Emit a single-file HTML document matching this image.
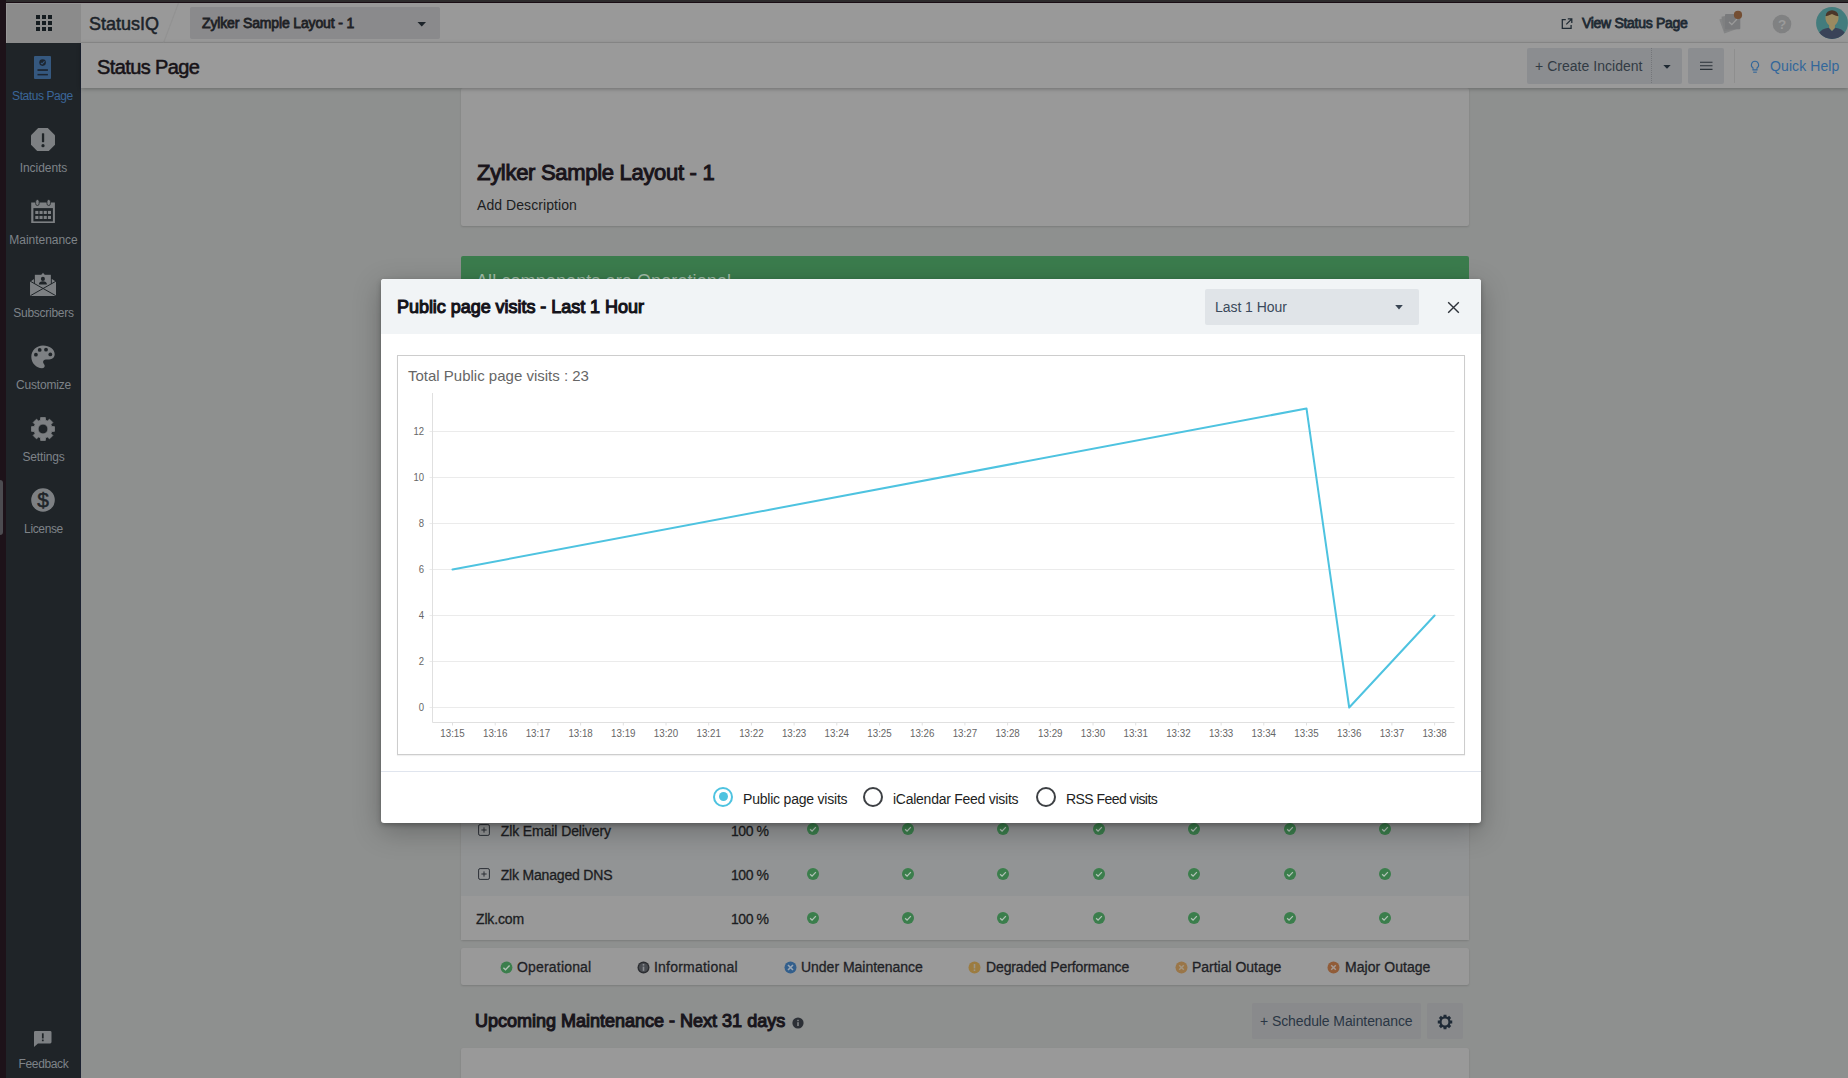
<!DOCTYPE html>
<html lang="en">
<head>
<meta charset="utf-8">
<title>StatusIQ - Status Page</title>
<style>
*{box-sizing:border-box;margin:0;padding:0}
html,body{width:1848px;height:1078px;overflow:hidden}
body{position:relative;background:#8e908f;font-family:"Liberation Sans",sans-serif;color:#1b1b1f;font-size:14px}
.abs{position:absolute}
.t{position:absolute;white-space:nowrap;line-height:20px;height:20px}
#edgeL{left:0;top:0;width:6px;height:1078px;background:#1d1219}
#edgeT1{left:6px;top:0;width:1842px;height:2px;background:#2d2b2c}
#edgeT2{left:6px;top:2px;width:1842px;height:1px;background:#190d14}
#handle{left:0;top:480px;width:3px;height:55px;background:#4c4b50;border-radius:0 3px 3px 0}
#top{left:6px;top:3px;width:1842px;height:40px;background:#999999;border-bottom:1px solid #8e8e8e}
#apps{left:6px;top:3px;width:75px;height:40px;background:#8b8b8b;border-top:1px solid #979797;border-left:1px solid #979797}
#apps i{position:absolute;width:4px;height:4px;background:#151c20}
#pagesel{left:190px;top:7px;width:250px;height:32px;background:#8a8a8c;border-radius:2px}
#side{left:6px;top:43px;width:75px;height:1035px;background:#1f2428;border-right:1px solid #1b2130}
.nav{position:absolute;left:0;width:75px;text-align:center;font-size:12px;color:#7e8388;line-height:20px;height:20px}
.nav.on{color:#3b6699}
.ico{position:absolute}
#sub{left:81px;top:43px;width:1767px;height:45px;background:#9a9a9a;box-shadow:0 1px 4px rgba(0,0,0,.28)}
.btn{position:absolute;background:#8b8d90;border-radius:2px}
.btn2{position:absolute;background:#898a8c;border-radius:2px}
.card{position:absolute;left:461px;width:1008px;background:#999999;border-radius:2px;box-shadow:0 1px 2px rgba(0,0,0,.14)}
.row{position:absolute;left:461px;width:1008px;height:44px}
#modal{left:381px;top:279px;width:1100px;height:544px;background:#fff;border-radius:3px;box-shadow:0 2px 5px rgba(0,0,0,.26),0 8px 28px rgba(0,0,0,.27);overflow:hidden}
#mhead{left:0;top:0;width:1100px;height:55px;background:#f1f4f6}
#msel{left:824px;top:10px;width:214px;height:36px;background:#e0e4e8;border-radius:2px}
#chart{left:16px;top:76px;width:1068px;height:400px;border:1px solid #cdcdcd;background:#fff;box-shadow:0 1px 1px rgba(0,0,0,.06)}
#mfoot{left:0;top:492px;width:1100px;height:1px;background:#e0e5ee}
.radio{position:absolute;width:20px;height:20px;border-radius:50%;border:2px solid #3d4044;background:#fff}
.radio.on{border-color:#4ec3e0}
.radio.on:after{content:"";position:absolute;left:3.5px;top:3.5px;width:9px;height:9px;border-radius:50%;background:#4ec3e0}
.lg{font-size:14px;color:#1f2226;-webkit-text-stroke:0.3px #1f2226}
.tr{font-size:14px;color:#1c1d21;-webkit-text-stroke:0.3px #1c1d21}
</style>
</head>
<body>
<!-- content cards -->
<div class="card" style="top:88px;height:138px"></div>
<div class="t" style="left:477px;top:161px;font-size:22px;color:#19141a;-webkit-text-stroke:1.0px #19141a;letter-spacing:-0.3px;line-height:24px;height:24px">Zylker Sample Layout - 1</div>
<div class="t" style="left:477px;top:195px;font-size:14px;color:#1c1d21;letter-spacing:0.07px">Add Description</div>
<div class="abs" style="left:461px;top:256px;width:1008px;height:60px;background:#3b7c4d;border-radius:2px"></div>
<div class="t" style="left:476px;top:269px;font-size:18px;color:#a3bda9;letter-spacing:0.1px;line-height:24px;height:24px">All components are Operational</div>

<!-- table rows -->
<div class="card" style="top:700px;height:240px"></div>
<div class="row" style="top:808px;background:#929495"></div>
<div class="row" style="top:852px;background:#929495"></div>
<div class="row" style="top:896px;background:#999999"></div>
<svg class="ico" style="left:477.500px;top:824px" width="12" height="12" viewBox="0 0 12 12"><rect x="0.600" y="0.600" width="10.800" height="10.800" rx="1.500" stroke="#2a2e35" stroke-width="1" fill="none"/><path d="M6 3.400v5.200M3.400 6h5.200" stroke="#2a2e35" stroke-width="1"/></svg>
<svg class="ico" style="left:477.500px;top:868px" width="12" height="12" viewBox="0 0 12 12"><rect x="0.600" y="0.600" width="10.800" height="10.800" rx="1.500" stroke="#2a2e35" stroke-width="1" fill="none"/><path d="M6 3.400v5.200M3.400 6h5.200" stroke="#2a2e35" stroke-width="1"/></svg>
<div class="t tr" style="left:500.700px;top:821px;letter-spacing:-0.1px">Zlk Email Delivery</div>
<div class="t tr" style="left:500.700px;top:865px;letter-spacing:-0.18px">Zlk Managed DNS</div>
<div class="t tr" style="left:476px;top:909px;letter-spacing:-0.15px">Zlk.com</div>
<div class="t tr" style="left:731px;top:821px;letter-spacing:-0.45px">100 %</div>
<div class="t tr" style="left:731px;top:865px;letter-spacing:-0.45px">100 %</div>
<div class="t tr" style="left:731px;top:909px;letter-spacing:-0.45px">100 %</div>
<svg class="ico" style="left:806.5px;top:823.1px" width="12" height="12" viewBox="0 0 13 13"><circle cx="6.500" cy="6.500" r="6.500" fill="#3b7e4c"/><path d="M3.400 6.700l2.100 2.100 4.100-4.300" stroke="#b2c2b7" stroke-width="1.400" fill="none"/></svg><svg class="ico" style="left:901.9px;top:823.1px" width="12" height="12" viewBox="0 0 13 13"><circle cx="6.500" cy="6.500" r="6.500" fill="#3b7e4c"/><path d="M3.400 6.700l2.100 2.100 4.100-4.300" stroke="#b2c2b7" stroke-width="1.400" fill="none"/></svg><svg class="ico" style="left:997.3px;top:823.1px" width="12" height="12" viewBox="0 0 13 13"><circle cx="6.500" cy="6.500" r="6.500" fill="#3b7e4c"/><path d="M3.400 6.700l2.100 2.100 4.100-4.300" stroke="#b2c2b7" stroke-width="1.400" fill="none"/></svg><svg class="ico" style="left:1092.7px;top:823.1px" width="12" height="12" viewBox="0 0 13 13"><circle cx="6.500" cy="6.500" r="6.500" fill="#3b7e4c"/><path d="M3.400 6.700l2.100 2.100 4.100-4.300" stroke="#b2c2b7" stroke-width="1.400" fill="none"/></svg><svg class="ico" style="left:1188.1px;top:823.1px" width="12" height="12" viewBox="0 0 13 13"><circle cx="6.500" cy="6.500" r="6.500" fill="#3b7e4c"/><path d="M3.400 6.700l2.100 2.100 4.100-4.300" stroke="#b2c2b7" stroke-width="1.400" fill="none"/></svg><svg class="ico" style="left:1283.5px;top:823.1px" width="12" height="12" viewBox="0 0 13 13"><circle cx="6.500" cy="6.500" r="6.500" fill="#3b7e4c"/><path d="M3.400 6.700l2.100 2.100 4.100-4.300" stroke="#b2c2b7" stroke-width="1.400" fill="none"/></svg><svg class="ico" style="left:1378.9px;top:823.1px" width="12" height="12" viewBox="0 0 13 13"><circle cx="6.500" cy="6.500" r="6.500" fill="#3b7e4c"/><path d="M3.400 6.700l2.100 2.100 4.100-4.300" stroke="#b2c2b7" stroke-width="1.400" fill="none"/></svg><svg class="ico" style="left:806.5px;top:867.8px" width="12" height="12" viewBox="0 0 13 13"><circle cx="6.500" cy="6.500" r="6.500" fill="#3b7e4c"/><path d="M3.400 6.700l2.100 2.100 4.100-4.300" stroke="#b2c2b7" stroke-width="1.400" fill="none"/></svg><svg class="ico" style="left:901.9px;top:867.8px" width="12" height="12" viewBox="0 0 13 13"><circle cx="6.500" cy="6.500" r="6.500" fill="#3b7e4c"/><path d="M3.400 6.700l2.100 2.100 4.100-4.300" stroke="#b2c2b7" stroke-width="1.400" fill="none"/></svg><svg class="ico" style="left:997.3px;top:867.8px" width="12" height="12" viewBox="0 0 13 13"><circle cx="6.500" cy="6.500" r="6.500" fill="#3b7e4c"/><path d="M3.400 6.700l2.100 2.100 4.100-4.300" stroke="#b2c2b7" stroke-width="1.400" fill="none"/></svg><svg class="ico" style="left:1092.7px;top:867.8px" width="12" height="12" viewBox="0 0 13 13"><circle cx="6.500" cy="6.500" r="6.500" fill="#3b7e4c"/><path d="M3.400 6.700l2.100 2.100 4.100-4.300" stroke="#b2c2b7" stroke-width="1.400" fill="none"/></svg><svg class="ico" style="left:1188.1px;top:867.8px" width="12" height="12" viewBox="0 0 13 13"><circle cx="6.500" cy="6.500" r="6.500" fill="#3b7e4c"/><path d="M3.400 6.700l2.100 2.100 4.100-4.300" stroke="#b2c2b7" stroke-width="1.400" fill="none"/></svg><svg class="ico" style="left:1283.5px;top:867.8px" width="12" height="12" viewBox="0 0 13 13"><circle cx="6.500" cy="6.500" r="6.500" fill="#3b7e4c"/><path d="M3.400 6.700l2.100 2.100 4.100-4.300" stroke="#b2c2b7" stroke-width="1.400" fill="none"/></svg><svg class="ico" style="left:1378.9px;top:867.8px" width="12" height="12" viewBox="0 0 13 13"><circle cx="6.500" cy="6.500" r="6.500" fill="#3b7e4c"/><path d="M3.400 6.700l2.100 2.100 4.100-4.300" stroke="#b2c2b7" stroke-width="1.400" fill="none"/></svg><svg class="ico" style="left:806.5px;top:911.6px" width="12" height="12" viewBox="0 0 13 13"><circle cx="6.500" cy="6.500" r="6.500" fill="#3b7e4c"/><path d="M3.400 6.700l2.100 2.100 4.100-4.300" stroke="#b2c2b7" stroke-width="1.400" fill="none"/></svg><svg class="ico" style="left:901.9px;top:911.6px" width="12" height="12" viewBox="0 0 13 13"><circle cx="6.500" cy="6.500" r="6.500" fill="#3b7e4c"/><path d="M3.400 6.700l2.100 2.100 4.100-4.300" stroke="#b2c2b7" stroke-width="1.400" fill="none"/></svg><svg class="ico" style="left:997.3px;top:911.6px" width="12" height="12" viewBox="0 0 13 13"><circle cx="6.500" cy="6.500" r="6.500" fill="#3b7e4c"/><path d="M3.400 6.700l2.100 2.100 4.100-4.300" stroke="#b2c2b7" stroke-width="1.400" fill="none"/></svg><svg class="ico" style="left:1092.7px;top:911.6px" width="12" height="12" viewBox="0 0 13 13"><circle cx="6.500" cy="6.500" r="6.500" fill="#3b7e4c"/><path d="M3.400 6.700l2.100 2.100 4.100-4.300" stroke="#b2c2b7" stroke-width="1.400" fill="none"/></svg><svg class="ico" style="left:1188.1px;top:911.6px" width="12" height="12" viewBox="0 0 13 13"><circle cx="6.500" cy="6.500" r="6.500" fill="#3b7e4c"/><path d="M3.400 6.700l2.100 2.100 4.100-4.300" stroke="#b2c2b7" stroke-width="1.400" fill="none"/></svg><svg class="ico" style="left:1283.5px;top:911.6px" width="12" height="12" viewBox="0 0 13 13"><circle cx="6.500" cy="6.500" r="6.500" fill="#3b7e4c"/><path d="M3.400 6.700l2.100 2.100 4.100-4.300" stroke="#b2c2b7" stroke-width="1.400" fill="none"/></svg><svg class="ico" style="left:1378.9px;top:911.6px" width="12" height="12" viewBox="0 0 13 13"><circle cx="6.500" cy="6.500" r="6.500" fill="#3b7e4c"/><path d="M3.400 6.700l2.100 2.100 4.100-4.300" stroke="#b2c2b7" stroke-width="1.400" fill="none"/></svg>

<!-- legend -->
<div class="card" style="top:948px;height:37px"></div>
<svg class="ico" style="left:499.5px;top:960.6px" width="13" height="13" viewBox="0 0 13 13"><circle cx="6.500" cy="6.500" r="5.900" fill="#3b7e4c"/><path d="M3.400 6.700l2.100 2.100 4.100-4.300" stroke="#b2c2b7" stroke-width="1.400" fill="none"/></svg>
<div class="t lg" style="left:517px;top:957px;letter-spacing:0.18px">Operational</div>
<svg class="ico" style="left:636.7px;top:960.6px" width="13" height="13" viewBox="0 0 13 13"><circle cx="6.500" cy="6.500" r="6" fill="#2b2d31"/><circle cx="6.500" cy="6.500" r="4.600" fill="#494c51"/><rect x="5.700" y="5.600" width="1.600" height="4.200" fill="#8a8d92"/><rect x="5.700" y="3" width="1.600" height="1.600" fill="#8a8d92"/></svg>
<div class="t lg" style="left:654px;top:957px;letter-spacing:0.22px">Informational</div>
<svg class="ico" style="left:783.6px;top:960.6px" width="13" height="13" viewBox="0 0 13 13"><circle cx="6.500" cy="6.500" r="6" fill="#335f8c"/><path d="M4 4l5 5M9 4l-5 5" stroke="#9aa6b4" stroke-width="1.600"/></svg>
<div class="t lg" style="left:801px;top:957px;letter-spacing:-0.02px">Under Maintenance</div>
<svg class="ico" style="left:968px;top:960.6px" width="13" height="13" viewBox="0 0 13 13"><circle cx="6.500" cy="6.500" r="6" fill="#9c7c40"/><rect x="5.700" y="3" width="1.600" height="4.400" fill="#9c9688"/><rect x="5.700" y="8.400" width="1.600" height="1.600" fill="#9c9688"/></svg>
<div class="t lg" style="left:986px;top:957px;letter-spacing:-0.12px">Degraded Performance</div>
<svg class="ico" style="left:1174.6px;top:960.6px" width="13" height="13" viewBox="0 0 13 13"><circle cx="6.500" cy="6.500" r="6" fill="#9a7648"/><path d="M4.200 4.200l4.600 4.600M8.800 4.200l-4.600 4.600" stroke="#a39682" stroke-width="1.500"/></svg>
<div class="t lg" style="left:1192px;top:957px;letter-spacing:-0.02px">Partial Outage</div>
<svg class="ico" style="left:1327px;top:960.6px" width="13" height="13" viewBox="0 0 13 13"><circle cx="6.500" cy="6.500" r="6" fill="#915c38"/><path d="M4.200 4.200l4.600 4.600M8.800 4.200l-4.600 4.600" stroke="#a59a93" stroke-width="1.500"/></svg>
<div class="t lg" style="left:1345px;top:957px;letter-spacing:0.05px">Major Outage</div>

<!-- upcoming maintenance -->
<div class="t" style="left:475px;top:1010px;font-size:18px;color:#19161c;-webkit-text-stroke:1.1px #19161c;letter-spacing:0.0px;line-height:22px;height:22px">Upcoming Maintenance - Next 31 days</div>
<svg class="ico" style="left:791.800px;top:1016.800px" width="12" height="12" viewBox="0 0 12 12"><circle cx="6" cy="6" r="5.600" fill="#2c3036"/><rect x="5.300" y="5.200" width="1.400" height="3.800" fill="#8e9092"/><rect x="5.300" y="2.800" width="1.400" height="1.400" fill="#8e9092"/></svg>
<div class="btn2" style="left:1252px;top:1003px;width:169px;height:36px"></div>
<div class="t" style="left:1260px;top:1011px;font-size:14px;color:#2a3644;letter-spacing:-0.09px">+ Schedule Maintenance</div>
<div class="btn2" style="left:1427px;top:1003px;width:36px;height:36px"></div>
<svg class="ico" style="left:1436.5px;top:1013.7px" width="16" height="16" viewBox="0 0 18 18" preserveAspectRatio="none"><path d="M7.24 2.95 L7.38 0.86 L10.62 0.86 L10.76 2.95 L12.04 3.48 L13.61 2.10 L15.90 4.39 L14.52 5.96 L15.05 7.24 L17.14 7.38 L17.14 10.62 L15.05 10.76 L14.52 12.04 L15.90 13.61 L13.61 15.90 L12.04 14.52 L10.76 15.05 L10.62 17.14 L7.38 17.14 L7.24 15.05 L5.96 14.52 L4.39 15.90 L2.10 13.61 L3.48 12.04 L2.95 10.76 L0.86 10.62 L0.86 7.38 L2.95 7.24 L3.48 5.96 L2.10 4.39 L4.39 2.10 L5.96 3.48Z M5.20 9.00a3.8 3.8 0 1 0 7.6 0a3.8 3.8 0 1 0 -7.6 0Z" fill="#1f2a36" fill-rule="evenodd"/></svg>
<div class="card" style="top:1048px;height:40px"></div>

<!-- top bar -->
<div class="abs" id="top"></div>
<div class="abs" id="apps"><i style="left:29px;top:11px"></i><i style="left:35px;top:11px"></i><i style="left:41px;top:11px"></i><i style="left:29px;top:17px"></i><i style="left:35px;top:17px"></i><i style="left:41px;top:17px"></i><i style="left:29px;top:23px"></i><i style="left:35px;top:23px"></i><i style="left:41px;top:23px"></i></div>
<div class="t" style="left:89px;top:13.500px;font-size:18px;color:#1c2329;letter-spacing:0;-webkit-text-stroke:0.5px #1c2329">StatusIQ</div>
<svg class="ico" style="left:158.500px;top:3px" width="22" height="40" viewBox="0 0 22 40"><path d="M19.500 0L4.500 40" stroke="#929292" stroke-width="1.200" fill="none"/></svg>
<div class="abs" id="pagesel"></div>
<div class="t" style="left:202px;top:13px;font-size:14px;color:#1f2226;-webkit-text-stroke:0.8px #1f2226;letter-spacing:-0.15px">Zylker Sample Layout - 1</div>
<svg class="ico" style="left:417px;top:21.700px" width="10" height="5" viewBox="0 0 10 5"><path d="M0.500 0h8.500L4.750 4.600z" fill="#1c2329"/></svg>

<svg class="ico" style="left:1561px;top:18px" width="12" height="12" viewBox="0 0 12 12"><path d="M4.800 1.600H1.300V10.400H10.100V7" stroke="#1f2a33" stroke-width="1.250" fill="none"/><path d="M6.800 0.900h4v4M10.600 1.100L5.300 6.400" stroke="#1f2a33" stroke-width="1.250" fill="none"/></svg>
<div class="t" style="left:1582px;top:13px;font-size:14px;color:#1f2a33;-webkit-text-stroke:0.8px #1f2a33;letter-spacing:-0.3px">View Status Page</div>
<!-- notification -->
<svg class="ico" style="left:1716px;top:9px" width="30" height="28" viewBox="0 0 30 28">
 <path d="M3.300 10.500l12.500-4.500 5 14-12.500 4.500z" fill="#848586"/>
 <path d="M5.500 7.800l14-2.800 2.800 14.500-14 2.800z" fill="#7f8081"/>
 <rect x="9" y="5" width="15.300" height="15.300" rx="1" fill="#797a7c"/>
 <path d="M13 13l2.800 2.600 5.200-5.600" stroke="#9a9a9a" stroke-width="1.300" fill="none"/>
 <circle cx="22" cy="5.900" r="4.100" fill="#744e33"/>
</svg>
<!-- help -->
<svg class="ico" style="left:1772px;top:14px" width="20" height="20" viewBox="0 0 20 20"><circle cx="10" cy="10" r="9.300" fill="#808182"/><text x="10" y="14.800" text-anchor="middle" font-family="Liberation Sans,sans-serif" font-weight="700" font-size="13.500" fill="#9a9a9a">?</text></svg>
<!-- avatar -->
<svg class="ico" style="left:1816px;top:7px" width="32" height="32" viewBox="0 0 32 32">
 <defs><clipPath id="av"><circle cx="16" cy="16" r="15.900"/></clipPath></defs>
 <circle cx="16" cy="16" r="15.900" fill="#437c7d"/>
 <g clip-path="url(#av)">
  <path d="M3 26c1.500-2.800 5-4.600 9.600-5.300L16 24.100l3.400-3.400c4.600 0.700 8.100 2.500 9.600 5.300v6H3z" fill="#3a4358"/>
  <ellipse cx="16" cy="8.600" rx="6.200" ry="5.400" fill="#4b3629"/>
  <path d="M9.400 9.300c2-0.600 4-1.200 6.600-2.400 2 1.200 4.600 2 6.600 2.400 0.300 4.200-1.500 7.400-3.700 9v2.500L16 24.100l-2.900-3.300v-2.500c-2.200-1.600-4-4.800-3.700-9z" fill="#9a8a60"/>
 </g>
</svg>

<!-- sidebar -->
<div class="abs" id="side">
<div class="nav on" style="left:-1px;top:42.5px;letter-spacing:-0.42px">Status Page</div>
<svg class="ico" style="left:28px;top:13px" width="17" height="23" viewBox="0 0 17 23" preserveAspectRatio="none"><rect width="17" height="23" rx="1" fill="#35587f"/><circle cx="8.6" cy="6.6" r="3.3" fill="#1c2530"/><path d="M6.9 6.8l1.2 1.2 2.4-2.7" stroke="#35587f" stroke-width="1.1" fill="none"/><rect x="3.5" y="13.2" width="10.4" height="1.7" fill="#1c2530"/><rect x="3.5" y="17.9" width="10.4" height="1.5" fill="#1c2530"/></svg>
<div class="nav" style="left:0px;top:114.5px;letter-spacing:-0.04px">Incidents</div>
<svg class="ico" style="left:25.3px;top:84.6px" width="23.7" height="23.4" viewBox="0 0 23.7 23.4" preserveAspectRatio="none"><path d="M7.2 0h9.6L24 7.2v9.6L16.8 24H7.2L0 16.8V7.2z" fill="#7d8083"/><rect x="10.9" y="5.2" width="2.3" height="9" rx="0.6" fill="#1f2428"/><circle cx="12" cy="17.7" r="1.6" fill="#1f2428"/></svg>
<div class="nav" style="left:0px;top:186.5px;letter-spacing:-0.04px">Maintenance</div>
<svg class="ico" style="overflow:visible;left:25px;top:157px" width="24" height="24" viewBox="0 0 24 24" preserveAspectRatio="none"><path d="M0.200 2.500H23.900V23H0.200z" fill="#7d8083"/><rect x="2.400" y="8.100" width="19.500" height="13.300" fill="#1f2428"/><rect x="4.3" y="10.9" width="3.100" height="3.100" fill="#7d8083"/><rect x="8.5" y="10.9" width="3.100" height="3.100" fill="#7d8083"/><rect x="12.7" y="10.9" width="3.100" height="3.100" fill="#7d8083"/><rect x="16.9" y="10.9" width="3.100" height="3.100" fill="#7d8083"/><rect x="4.3" y="15.9" width="3.100" height="3.100" fill="#7d8083"/><rect x="8.5" y="15.9" width="3.100" height="3.100" fill="#7d8083"/><rect x="12.7" y="15.9" width="3.100" height="3.100" fill="#7d8083"/><rect x="16.9" y="15.9" width="3.100" height="3.100" fill="#7d8083"/><rect x="4.700" y="-0.500" width="3.400" height="6" rx="1.700" fill="#7d8083" stroke="#1f2428" stroke-width="0.800"/><rect x="16" y="-0.500" width="3.400" height="6" rx="1.700" fill="#7d8083" stroke="#1f2428" stroke-width="0.800"/></svg>
<div class="nav" style="left:0px;top:259.5px;letter-spacing:-0.28px">Subscribers</div>
<svg class="ico" style="left:24px;top:229px" width="26" height="24" viewBox="0 0 26 24" preserveAspectRatio="none"><path d="M0.200 24V9.800L4 6.900H22L26 9.800V24z" fill="#7d8083"/><rect x="3.900" y="2.100" width="17.900" height="15" fill="#1f2428"/><rect x="4.850" y="2.800" width="16" height="15" fill="#7d8083"/><path d="M11.200 2.900L13 0.700L14.800 2.900z" fill="#7d8083"/><circle cx="12.900" cy="6.900" r="2.050" fill="#1f2428"/><path d="M8.900 12.500c0-2.100 1.700-3.200 4-3.200s4 1.100 4 3.200z" fill="#1f2428"/><path d="M0.200 24V9.800L13 16.300L26 9.800V24z" fill="#7d8083"/><path d="M0.400 9.300L25.800 23.700M25.800 9.300L0.400 23.700" stroke="#1f2428" stroke-width="1" fill="none"/></svg>
<div class="nav" style="left:0px;top:331.5px;letter-spacing:-0.18px">Customize</div>
<svg class="ico" style="left:25px;top:302px" width="24" height="24" viewBox="0 0 24 24" preserveAspectRatio="none"><path d="M12 0.500C5.400 0.500 0.300 5.500 0.300 11.800c0 6.300 5 11.400 10.700 11.400 1.800 0 2.700-1.200 2.700-2.500 0-0.900-0.500-1.400-0.900-2-0.400-0.600-0.700-1.100-0.700-1.800 0-1.500 1.200-2.500 2.800-2.500h3.300c3.100 0 5.500-2.300 5.500-5.200C23.700 4.300 18.500 0.500 12 0.500z" fill="#7d8083"/><circle cx="4.900" cy="9.700" r="1.900" fill="#1f2428"/><circle cx="8.700" cy="4.900" r="1.900" fill="#1f2428"/><circle cx="15" cy="4.700" r="1.900" fill="#1f2428"/><circle cx="19.300" cy="9.400" r="1.900" fill="#1f2428"/></svg>
<div class="nav" style="left:0px;top:403.5px;letter-spacing:-0.18px">Settings</div>
<svg class="ico" style="left:25px;top:374px" width="24" height="24" viewBox="0 0 24 24" preserveAspectRatio="none"><path d="M9.46 3.26 L9.70 0.43 L14.30 0.43 L14.54 3.26 L16.38 4.03 L18.56 2.19 L21.81 5.44 L19.97 7.62 L20.74 9.46 L23.57 9.70 L23.57 14.30 L20.74 14.54 L19.97 16.38 L21.81 18.56 L18.56 21.81 L16.38 19.97 L14.54 20.74 L14.30 23.57 L9.70 23.57 L9.46 20.74 L7.62 19.97 L5.44 21.81 L2.19 18.56 L4.03 16.38 L3.26 14.54 L0.43 14.30 L0.43 9.70 L3.26 9.46 L4.03 7.62 L2.19 5.44 L5.44 2.19 L7.62 4.03Z M7.10 12.00a4.9 4.9 0 1 0 9.8 0a4.9 4.9 0 1 0 -9.8 0Z" fill="#7d8083" fill-rule="evenodd" stroke="#7d8083" stroke-width="0.8" stroke-linejoin="round"/></svg>
<div class="nav" style="left:0px;top:475.5px;letter-spacing:-0.36px">License</div>
<svg class="ico" style="left:25px;top:445px" width="24" height="24" viewBox="0 0 24 24" preserveAspectRatio="none"><circle cx="12" cy="12" r="11.800" fill="#7d8083"/><text x="12" y="18.700" text-anchor="middle" font-family="Liberation Sans,sans-serif" font-size="21" fill="#1f2428" stroke="#1f2428" stroke-width="0.500">$</text></svg>
<div class="nav" style="left:0px;top:1010.5px;letter-spacing:-0.36px">Feedback</div>
<svg class="ico" style="left:28.4px;top:988.4px" width="17.5" height="16" viewBox="0 0 19 18" preserveAspectRatio="none"><path d="M1.500 0h16A1.500 1.500 0 0 1 19 1.500v11A1.500 1.500 0 0 1 17.500 14H4.300L0 18V1.500A1.500 1.500 0 0 1 1.500 0z" fill="#7d8083"/><rect x="8.600" y="2.600" width="1.900" height="5.800" fill="#1f2428"/><rect x="8.600" y="9.600" width="1.900" height="1.900" fill="#1f2428"/></svg>

</div>

<!-- sub header -->
<div class="abs" id="sub"></div>
<div class="t" style="left:97px;top:57px;font-size:20px;color:#171318;letter-spacing:-0.6px;-webkit-text-stroke:0.55px #171318">Status Page</div>
<div class="btn" style="left:1527px;top:48px;width:124px;height:36px;border-radius:2px 0 0 2px"></div>
<div class="btn" style="left:1652px;top:48px;width:30px;height:36px;border-radius:0 2px 2px 0"></div>
<div class="abs" style="left:1651px;top:48px;width:1px;height:36px;background:repeating-linear-gradient(#74767a 0 1px,#8b8d90 1px 2px)"></div>
<div class="btn" style="left:1688px;top:48px;width:36px;height:36px"></div>
<div class="t" style="left:1535px;top:56px;font-size:14px;color:#323b44;letter-spacing:0.03px">+ Create Incident</div>
<svg class="ico" style="left:1663px;top:65px" width="8" height="4" viewBox="0 0 8 4"><path d="M0.300 0h7.400L4 3.800z" fill="#1f2a33"/></svg>
<svg class="ico" style="left:1700px;top:61px" width="13" height="10" viewBox="0 0 13 10"><path d="M0 1.200h12.500M0 4.800h12.500M0 8.400h12.500" stroke="#2b3238" stroke-width="1.100"/></svg>
<div class="abs" style="left:1734px;top:49px;width:1px;height:34px;background:#8e8e8e"></div>
<svg class="ico" style="left:1749px;top:59px" width="12" height="16" viewBox="0 0 12 16"><path d="M6 2.300a3.600 3.600 0 0 0-2 6.600v2h4v-2A3.600 3.600 0 0 0 6 2.300z" stroke="#33679a" stroke-width="1.100" fill="none"/><path d="M4.200 13.200h3.600" stroke="#33679a" stroke-width="1.100"/></svg>
<div class="t" style="left:1770px;top:56px;font-size:14px;color:#33679a;letter-spacing:0.1px">Quick Help</div>

<!-- MODAL -->
<div class="abs" id="modal">
  <div class="abs" id="mhead"></div>
  <div class="t" style="left:16px;top:17px;font-size:18px;color:#14131a;-webkit-text-stroke:1.1px #14131a;letter-spacing:-0.04px;line-height:22px;height:22px">Public page visits - Last 1 Hour</div>
  <div class="abs" id="msel"></div>
  <div class="t" style="left:834px;top:18px;font-size:14px;color:#3a495b;letter-spacing:-0.05px">Last 1 Hour</div>
  <svg class="ico" style="left:1013.500px;top:26px" width="8" height="5" viewBox="0 0 8 5"><path d="M0.200 0h7.600L4 4.400z" fill="#3a4654"/></svg>
  <svg class="ico" style="left:1066px;top:22px" width="13" height="13" viewBox="0 0 13 13"><path d="M1.200 1.200l10.600 10.600M11.800 1.200L1.200 11.800" stroke="#2d3239" stroke-width="1.400"/></svg>
  <div class="abs" id="chart"><svg class="abs" style="left:0;top:0" width="1066" height="397" viewBox="0 0 1066 397" font-family="Liberation Sans, sans-serif"><path d="M31.5 75.5H1056.5" stroke="#ebebeb" stroke-width="1"/><text x="15.4" y="78.5" font-size="11" fill="#666" textLength="10.6" lengthAdjust="spacingAndGlyphs">12</text><path d="M31.5 121.5H1056.5" stroke="#ebebeb" stroke-width="1"/><text x="15.4" y="124.5" font-size="11" fill="#666" textLength="10.6" lengthAdjust="spacingAndGlyphs">10</text><path d="M31.5 167.5H1056.5" stroke="#ebebeb" stroke-width="1"/><text x="20.7" y="170.5" font-size="11" fill="#666" textLength="5.3" lengthAdjust="spacingAndGlyphs">8</text><path d="M31.5 213.5H1056.5" stroke="#ebebeb" stroke-width="1"/><text x="20.7" y="216.5" font-size="11" fill="#666" textLength="5.3" lengthAdjust="spacingAndGlyphs">6</text><path d="M31.5 259.5H1056.5" stroke="#ebebeb" stroke-width="1"/><text x="20.7" y="262.5" font-size="11" fill="#666" textLength="5.3" lengthAdjust="spacingAndGlyphs">4</text><path d="M31.5 305.5H1056.5" stroke="#ebebeb" stroke-width="1"/><text x="20.7" y="308.5" font-size="11" fill="#666" textLength="5.3" lengthAdjust="spacingAndGlyphs">2</text><path d="M31.5 351.5H1056.5" stroke="#ebebeb" stroke-width="1"/><text x="20.7" y="354.5" font-size="11" fill="#666" textLength="5.3" lengthAdjust="spacingAndGlyphs">0</text><path d="M34.5 37.0V366.5" stroke="#e0e0e0" stroke-width="1"/><path d="M34.5 366.5H1056.5" stroke="#e0e0e0" stroke-width="1"/><path d="M54.5 367.0v2.5" stroke="#e0e0e0" stroke-width="1"/><text x="42.3" y="381.0" font-size="11" fill="#666" textLength="24.4" lengthAdjust="spacingAndGlyphs">13:15</text><path d="M97.2 367.0v2.5" stroke="#e0e0e0" stroke-width="1"/><text x="85.0" y="381.0" font-size="11" fill="#666" textLength="24.4" lengthAdjust="spacingAndGlyphs">13:16</text><path d="M139.9 367.0v2.5" stroke="#e0e0e0" stroke-width="1"/><text x="127.7" y="381.0" font-size="11" fill="#666" textLength="24.4" lengthAdjust="spacingAndGlyphs">13:17</text><path d="M182.6 367.0v2.5" stroke="#e0e0e0" stroke-width="1"/><text x="170.4" y="381.0" font-size="11" fill="#666" textLength="24.4" lengthAdjust="spacingAndGlyphs">13:18</text><path d="M225.3 367.0v2.5" stroke="#e0e0e0" stroke-width="1"/><text x="213.1" y="381.0" font-size="11" fill="#666" textLength="24.4" lengthAdjust="spacingAndGlyphs">13:19</text><path d="M268.0 367.0v2.5" stroke="#e0e0e0" stroke-width="1"/><text x="255.8" y="381.0" font-size="11" fill="#666" textLength="24.4" lengthAdjust="spacingAndGlyphs">13:20</text><path d="M310.7 367.0v2.5" stroke="#e0e0e0" stroke-width="1"/><text x="298.5" y="381.0" font-size="11" fill="#666" textLength="24.4" lengthAdjust="spacingAndGlyphs">13:21</text><path d="M353.4 367.0v2.5" stroke="#e0e0e0" stroke-width="1"/><text x="341.2" y="381.0" font-size="11" fill="#666" textLength="24.4" lengthAdjust="spacingAndGlyphs">13:22</text><path d="M396.1 367.0v2.5" stroke="#e0e0e0" stroke-width="1"/><text x="383.9" y="381.0" font-size="11" fill="#666" textLength="24.4" lengthAdjust="spacingAndGlyphs">13:23</text><path d="M438.8 367.0v2.5" stroke="#e0e0e0" stroke-width="1"/><text x="426.6" y="381.0" font-size="11" fill="#666" textLength="24.4" lengthAdjust="spacingAndGlyphs">13:24</text><path d="M481.5 367.0v2.5" stroke="#e0e0e0" stroke-width="1"/><text x="469.3" y="381.0" font-size="11" fill="#666" textLength="24.4" lengthAdjust="spacingAndGlyphs">13:25</text><path d="M524.2 367.0v2.5" stroke="#e0e0e0" stroke-width="1"/><text x="512.0" y="381.0" font-size="11" fill="#666" textLength="24.4" lengthAdjust="spacingAndGlyphs">13:26</text><path d="M566.9 367.0v2.5" stroke="#e0e0e0" stroke-width="1"/><text x="554.7" y="381.0" font-size="11" fill="#666" textLength="24.4" lengthAdjust="spacingAndGlyphs">13:27</text><path d="M609.6 367.0v2.5" stroke="#e0e0e0" stroke-width="1"/><text x="597.4" y="381.0" font-size="11" fill="#666" textLength="24.4" lengthAdjust="spacingAndGlyphs">13:28</text><path d="M652.3 367.0v2.5" stroke="#e0e0e0" stroke-width="1"/><text x="640.1" y="381.0" font-size="11" fill="#666" textLength="24.4" lengthAdjust="spacingAndGlyphs">13:29</text><path d="M695.0 367.0v2.5" stroke="#e0e0e0" stroke-width="1"/><text x="682.8" y="381.0" font-size="11" fill="#666" textLength="24.4" lengthAdjust="spacingAndGlyphs">13:30</text><path d="M737.7 367.0v2.5" stroke="#e0e0e0" stroke-width="1"/><text x="725.5" y="381.0" font-size="11" fill="#666" textLength="24.4" lengthAdjust="spacingAndGlyphs">13:31</text><path d="M780.4 367.0v2.5" stroke="#e0e0e0" stroke-width="1"/><text x="768.2" y="381.0" font-size="11" fill="#666" textLength="24.4" lengthAdjust="spacingAndGlyphs">13:32</text><path d="M823.1 367.0v2.5" stroke="#e0e0e0" stroke-width="1"/><text x="810.9" y="381.0" font-size="11" fill="#666" textLength="24.4" lengthAdjust="spacingAndGlyphs">13:33</text><path d="M865.8 367.0v2.5" stroke="#e0e0e0" stroke-width="1"/><text x="853.6" y="381.0" font-size="11" fill="#666" textLength="24.4" lengthAdjust="spacingAndGlyphs">13:34</text><path d="M908.5 367.0v2.5" stroke="#e0e0e0" stroke-width="1"/><text x="896.3" y="381.0" font-size="11" fill="#666" textLength="24.4" lengthAdjust="spacingAndGlyphs">13:35</text><path d="M951.2 367.0v2.5" stroke="#e0e0e0" stroke-width="1"/><text x="939.0" y="381.0" font-size="11" fill="#666" textLength="24.4" lengthAdjust="spacingAndGlyphs">13:36</text><path d="M993.9 367.0v2.5" stroke="#e0e0e0" stroke-width="1"/><text x="981.7" y="381.0" font-size="11" fill="#666" textLength="24.4" lengthAdjust="spacingAndGlyphs">13:37</text><path d="M1036.6 367.0v2.5" stroke="#e0e0e0" stroke-width="1"/><text x="1024.4" y="381.0" font-size="11" fill="#666" textLength="24.4" lengthAdjust="spacingAndGlyphs">13:38</text><path d="M54.5 213.5 L908.5 52.5 L951.2 351.5 L1036.6 259.5" fill="none" stroke="#4ec3e0" stroke-width="2" stroke-linejoin="round" stroke-linecap="round"/><text x="10" y="25" font-size="15" fill="#666">Total Public page visits : 23</text></svg></div>
  <div class="abs" id="mfoot"></div>
  <div class="radio on" style="left:332.300px;top:507.700px"></div>
  <div class="t" style="left:362px;top:510px;font-size:14px;color:#1d1e22;letter-spacing:-0.21px">Public page visits</div>
  <div class="radio" style="left:482.100px;top:507.700px"></div>
  <div class="t" style="left:512px;top:510px;font-size:14px;color:#1d1e22;letter-spacing:-0.26px">iCalendar Feed visits</div>
  <div class="radio" style="left:654.800px;top:507.700px"></div>
  <div class="t" style="left:685px;top:510px;font-size:14px;color:#1d1e22;letter-spacing:-0.56px">RSS Feed visits</div>
</div>

<div class="abs" id="edgeL"></div>
<div class="abs" id="edgeT1"></div>
<div class="abs" id="edgeT2"></div>
<div class="abs" id="handle"></div>
</body>
</html>
